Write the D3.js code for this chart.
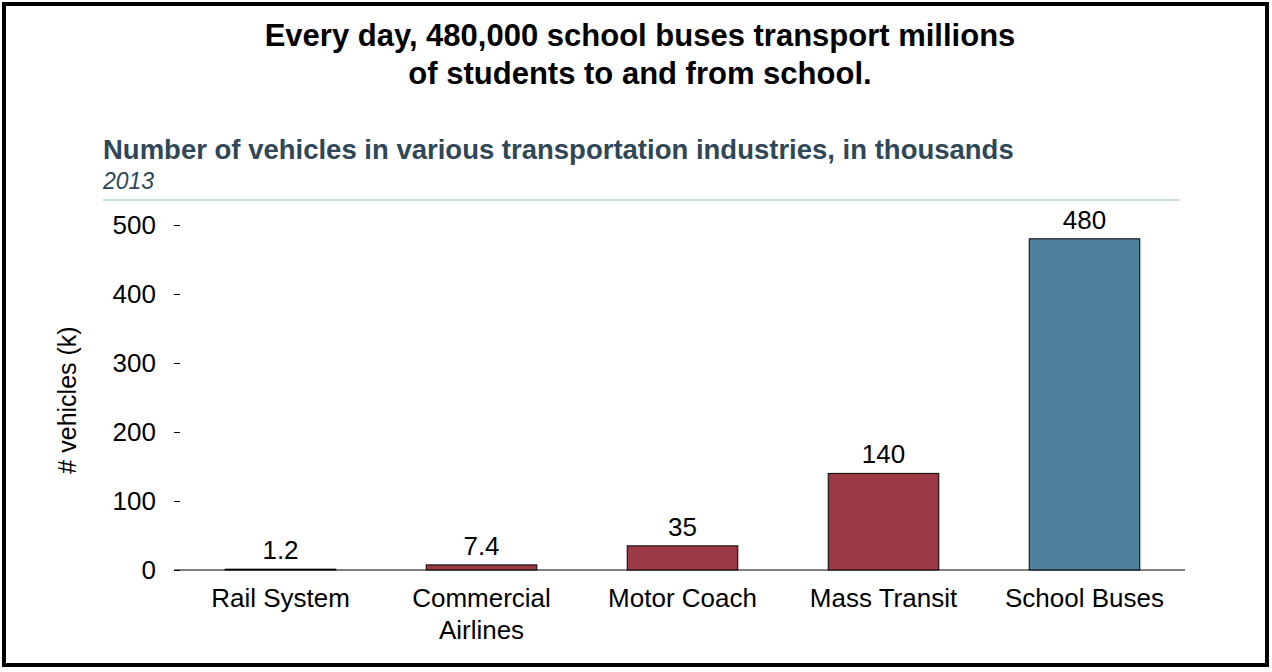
<!DOCTYPE html>
<html><head><meta charset="utf-8">
<script src="https://cdn.jsdelivr.net/npm/d3@7"></script>
<style>body{margin:0;background:#fff}text{font-family:"Liberation Sans",Arial,sans-serif}</style>
</head><body>
<svg id="chart" width="1272" height="672"></svg>
<script>
const categories = [["Rail System"], ["Commercial", "Airlines"], ["Motor Coach"], ["Mass Transit"], ["School Buses"]];
const values = [1.2, 7.4, 35, 140, 480];
const valueLabels = ["1.2", "7.4", "35", "140", "480"];
const barColors = ["#9b3a45", "#9b3a45", "#9b3a45", "#9b3a45", "#4e7f9c"];
const yTicks = [0, 100, 200, 300, 400, 500];

const svg = d3.select("#chart");
svg.append("rect").attr("x", 4).attr("y", 4).attr("width", 1263).attr("height", 661)
  .attr("fill", "none").attr("stroke", "#000").attr("stroke-width", 4);

svg.append("text").attr("x", 640).attr("y", 46).attr("text-anchor", "middle")
  .attr("font-size", 31).attr("font-weight", "bold").text("Every day, 480,000 school buses transport millions");
svg.append("text").attr("x", 640).attr("y", 84).attr("text-anchor", "middle")
  .attr("font-size", 31).attr("font-weight", "bold").text("of students to and from school.");
svg.append("text").attr("x", 103).attr("y", 159).attr("font-size", 27.5).attr("font-weight", "bold")
  .attr("fill", "#2f4756").text("Number of vehicles in various transportation industries, in thousands");
svg.append("text").attr("x", 103).attr("y", 189).attr("font-size", 23).attr("font-style", "italic")
  .attr("fill", "#2f4756").text("2013");
svg.append("line").attr("x1", 103).attr("x2", 1180).attr("y1", 200).attr("y2", 200)
  .attr("stroke", "#b9d4de").attr("stroke-width", 1.5);

const x = d3.scaleBand().domain(d3.range(values.length)).range([180, 1185]).paddingInner(0.45).paddingOuter(0.225);
const y = d3.scaleLinear().domain([0, 500]).range([570, 225]);

const ya = svg.append("g").attr("transform", "translate(180,0)")
  .call(d3.axisLeft(y).tickValues(yTicks).tickSize(6).tickPadding(18));
ya.select(".domain").remove();
ya.selectAll("text").attr("font-size", 26).attr("fill", "#000").style("font-family", "Liberation Sans, Arial");

svg.append("line").attr("x1", 174).attr("x2", 1185).attr("y1", 570).attr("y2", 570).attr("stroke", "#000");

svg.append("text").attr("transform", "translate(76,400) rotate(-90)").attr("text-anchor", "middle")
  .attr("font-size", 25).text("# vehicles (k)");

svg.selectAll("rect.bar").data(values).join("rect").attr("class", "bar")
  .attr("x", (d, i) => x(i)).attr("width", x.bandwidth())
  .attr("y", d => y(d)).attr("height", d => y(0) - y(d))
  .attr("fill", (d, i) => barColors[i]).attr("stroke", "#000").attr("stroke-width", 1);

svg.selectAll("text.val").data(values).join("text").attr("class", "val")
  .attr("x", (d, i) => x(i) + x.bandwidth() / 2).attr("y", d => y(d) - 10)
  .attr("text-anchor", "middle").attr("font-size", 26).text((d, i) => valueLabels[i]);

categories.forEach((lines, i) => {
  lines.forEach((l, j) => {
    svg.append("text").attr("x", x(i) + x.bandwidth() / 2).attr("y", 607 + j * 32)
      .attr("text-anchor", "middle").attr("font-size", 26).text(l);
  });
});
</script>
</body></html>
